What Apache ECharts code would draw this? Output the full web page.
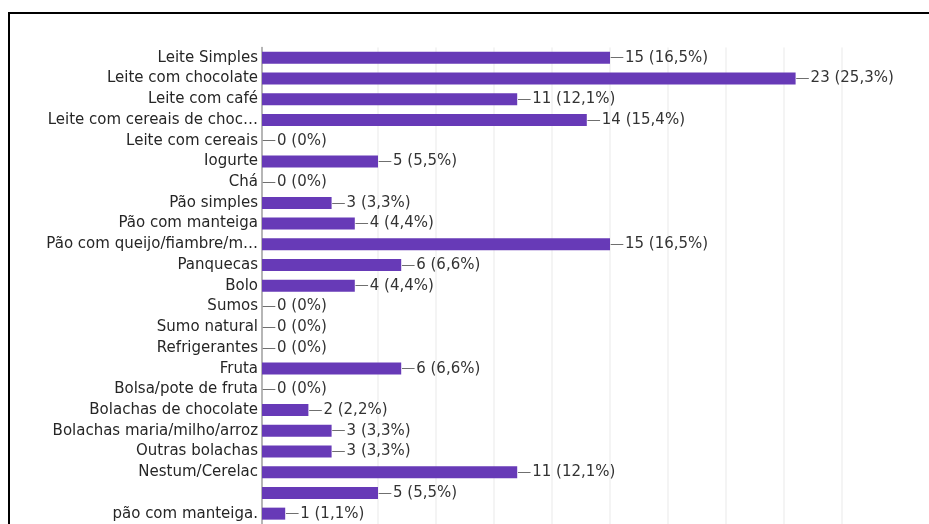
<!DOCTYPE html>
<html>
<head>
<meta charset="utf-8">
<script src="https://cdn.jsdelivr.net/npm/echarts@6/dist/echarts.min.js"></script>
<style>
  html, body { margin: 0; padding: 0; background: #fff; }
  #chart { width: 929px; height: 524px; }
</style>
</head>
<body>
<div id="chart"></div>
<script>
// Breakfast items: number of answers and share of respondents
const categories = [
  'Leite Simples',
  'Leite com chocolate',
  'Leite com café',
  'Leite com cereais de choc…',
  'Leite com cereais',
  'Iogurte',
  'Chá',
  'Pão simples',
  'Pão com manteiga',
  'Pão com queijo/fiambre/m…',
  'Panquecas',
  'Bolo',
  'Sumos',
  'Sumo natural',
  'Refrigerantes',
  'Fruta',
  'Bolsa/pote de fruta',
  'Bolachas de chocolate',
  'Bolachas maria/milho/arroz',
  'Outras bolachas',
  'Nestum/Cerelac',
  '',
  'pão com manteiga.'
];
const counts = [15, 23, 11, 14, 0, 5, 0, 3, 4, 15, 6, 4, 0, 0, 0, 6, 0, 2, 3, 3, 11, 5, 1];
const percents = ['16,5%', '25,3%', '12,1%', '15,4%', '0%', '5,5%', '0%', '3,3%', '4,4%', '16,5%',
  '6,6%', '4,4%', '0%', '0%', '0%', '6,6%', '0%', '2,2%', '3,3%', '3,3%', '12,1%', '5,5%', '1,1%'];

const FONT = 'DejaVu Sans';
const chart = echarts.init(document.getElementById('chart'));

// faint vertical grid every 2.5, the 2.5 line itself left out
const gridColors = ['transparent', 'transparent', '#f0f0f0', '#f0f0f0', '#f0f0f0', '#f0f0f0',
  '#f0f0f0', '#f0f0f0', '#f0f0f0', '#f0f0f0', '#f0f0f0'];

chart.setOption({
  animation: false,
  backgroundColor: '#ffffff',
  grid: { left: 262, top: 47.5, width: 580, height: 480, containLabel: false },
  xAxis: {
    type: 'value',
    min: 0,
    max: 25,
    interval: 2.5,
    axisLine: { show: false },
    axisTick: { show: false },
    axisLabel: { show: false },
    splitLine: { show: true, lineStyle: { color: gridColors, width: 1.5 } }
  },
  yAxis: {
    type: 'category',
    data: categories,
    inverse: true,
    axisLine: { show: true, lineStyle: { color: '#9e9e9e', width: 1.5 } },
    axisTick: { show: false },
    axisLabel: {
      margin: 4,
      fontFamily: FONT,
      fontSize: 15,
      color: '#262626'
    }
  },
  series: [{
    type: 'bar',
    data: counts,
    barWidth: 12,
    itemStyle: { color: '#673ab7' },
    label: {
      show: true,
      position: 'right',
      distance: 0,
      formatter: p => '{d|—}{v|' + counts[p.dataIndex] + ' (' + percents[p.dataIndex] + ')}',
      rich: {
        d: { fontFamily: FONT, fontSize: 14, color: '#6f6f6f' },
        v: { fontFamily: FONT, fontSize: 15, color: '#333333', padding: [0, 0, 0, 1] }
      }
    }
  }],
  graphic: [{
    type: 'rect',
    silent: true,
    z: 100,
    shape: { x: 9, y: 13, width: 1000, height: 1000 },
    style: { fill: 'none', stroke: '#000000', lineWidth: 2 }
  }]
});
</script>
</body>
</html>
